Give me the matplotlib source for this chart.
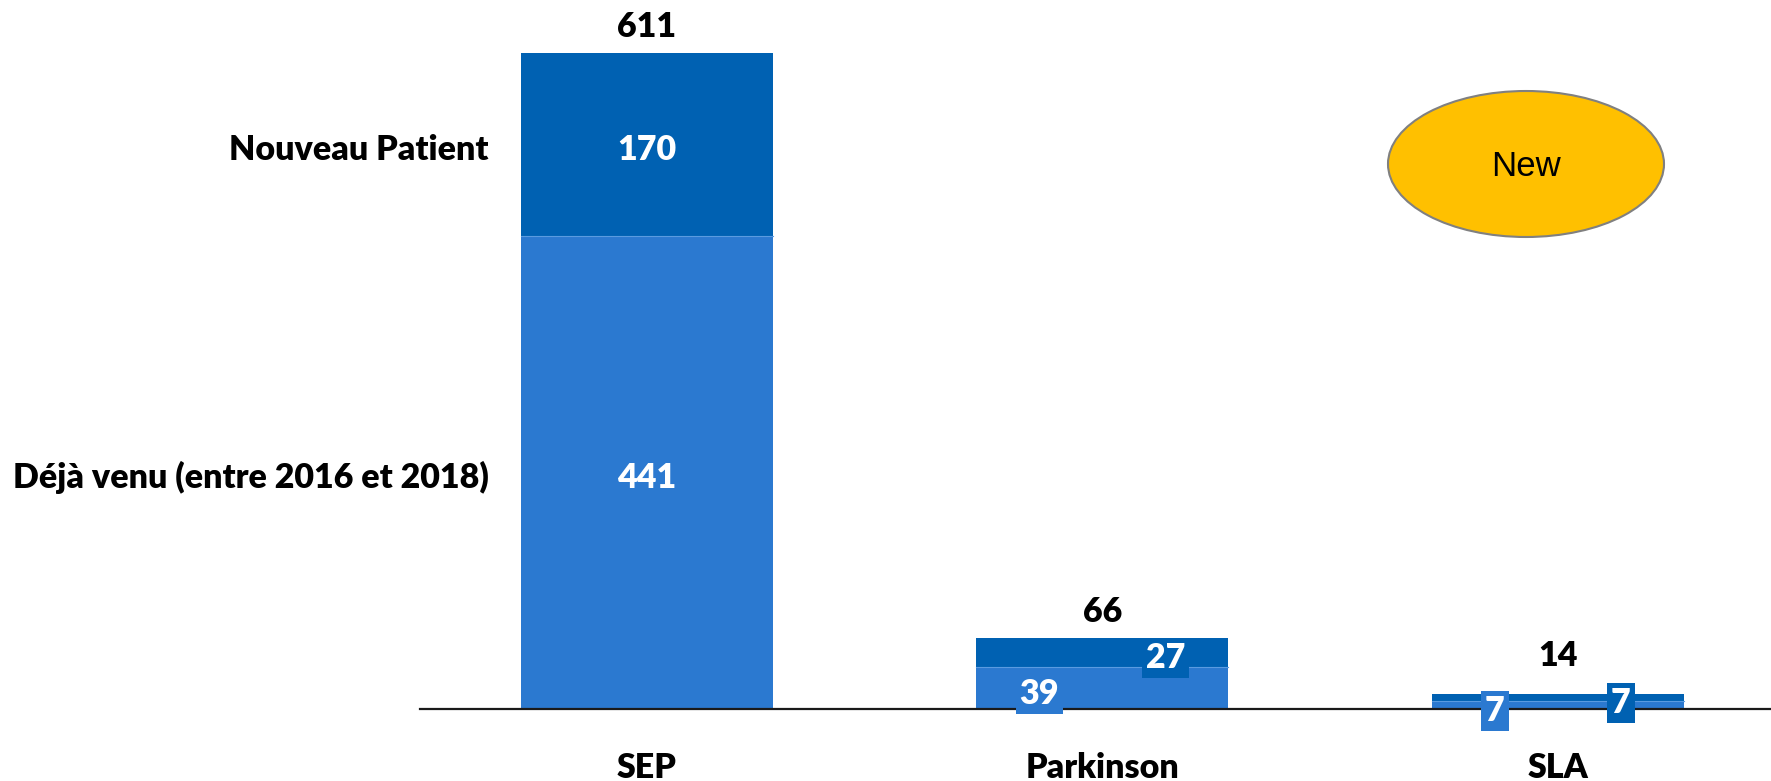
import matplotlib
matplotlib.use("Agg")
import matplotlib.pyplot as plt
from matplotlib.patches import Ellipse

categories = ["SEP", "Parkinson", "SLA"]
deja_venu = [441, 39, 7]
nouveau = [170, 27, 7]
totals = [611, 66, 14]
series_names = ["Déjà venu (entre 2016 et 2018)", "Nouveau Patient"]

light = "#2B79D0"
dark = "#0061B2"
FONT = "Lato"
FS = 24.5
DY = -4  # points, vertical nudge to match the reference's text centring

fig = plt.figure(figsize=(17.71, 7.81), dpi=100)
ax = fig.add_axes([420 / 1771, 72 / 781, 1 - 420 / 1771, 709 / 781])

x = list(range(len(categories)))
width = 0.553
ax.bar(x, deja_venu, width, color=light, edgecolor="none")
ax.bar(x, nouveau, width, bottom=deja_venu, color=dark, edgecolor="none")
for xi, d in zip(x, deja_venu):
    ax.plot([xi - width / 2, xi + width / 2], [d, d], color="#5A9BE0", lw=0.8, zorder=3)

ax.set_xlim(-0.498, 2.468)
ax.set_ylim(0, 660.4)

for s in ["top", "right", "left"]:
    ax.spines[s].set_visible(False)
ax.spines["bottom"].set_color("#1a1a1a")
ax.spines["bottom"].set_linewidth(1.6)
ax.set_yticks([])
ax.set_xticks(x)
ax.set_xticklabels(categories, fontfamily=FONT, fontweight="heavy", fontsize=FS)
ax.tick_params(axis="x", length=0, pad=31)


def label(xv, yv, s, color, fc=None, ha="center", dy=DY):
    kw = dict(xytext=(0, dy), textcoords="offset points", ha=ha, va="center",
              color=color, fontfamily=FONT, fontweight="heavy", fontsize=FS,
              zorder=5, annotation_clip=False)
    if fc is not None:
        kw["bbox"] = dict(boxstyle="square,pad=0.12", fc=fc, ec="none")
    ax.annotate(s, (xv, yv), **kw)


for i, (d, n) in enumerate(zip(deja_venu, nouveau)):
    if i == 0:
        xd, xn = x[i], x[i]
    else:
        xd, xn = x[i] - width * 0.25, x[i] + width * 0.25
    label(xd, d / 2, str(d), "white", fc=light)
    label(xn, d + n / 2, str(n), "white", fc=dark)

extra = [0, 0, 12]
for i, t in enumerate(totals):
    label(x[i], t, str(t), "black", dy=(26 + extra[i]) * 0.72)

label(-0.347, deja_venu[0] / 2, series_names[0], "black", ha="right")
label(-0.347, deja_venu[0] + nouveau[0] / 2, series_names[1], "black", ha="right")

ell = Ellipse((1526 / 1771, 1 - 164 / 781), 276 / 1771, 146 / 781,
              transform=fig.transFigure, facecolor="#FFC000", edgecolor="#808080", lw=1.5)
fig.add_artist(ell)
fig.text(1526 / 1771, 1 - 166 / 781, "New", ha="center", va="center",
         fontfamily="Liberation Sans", fontsize=25, color="black")

fig.savefig("out.png", dpi=100)
